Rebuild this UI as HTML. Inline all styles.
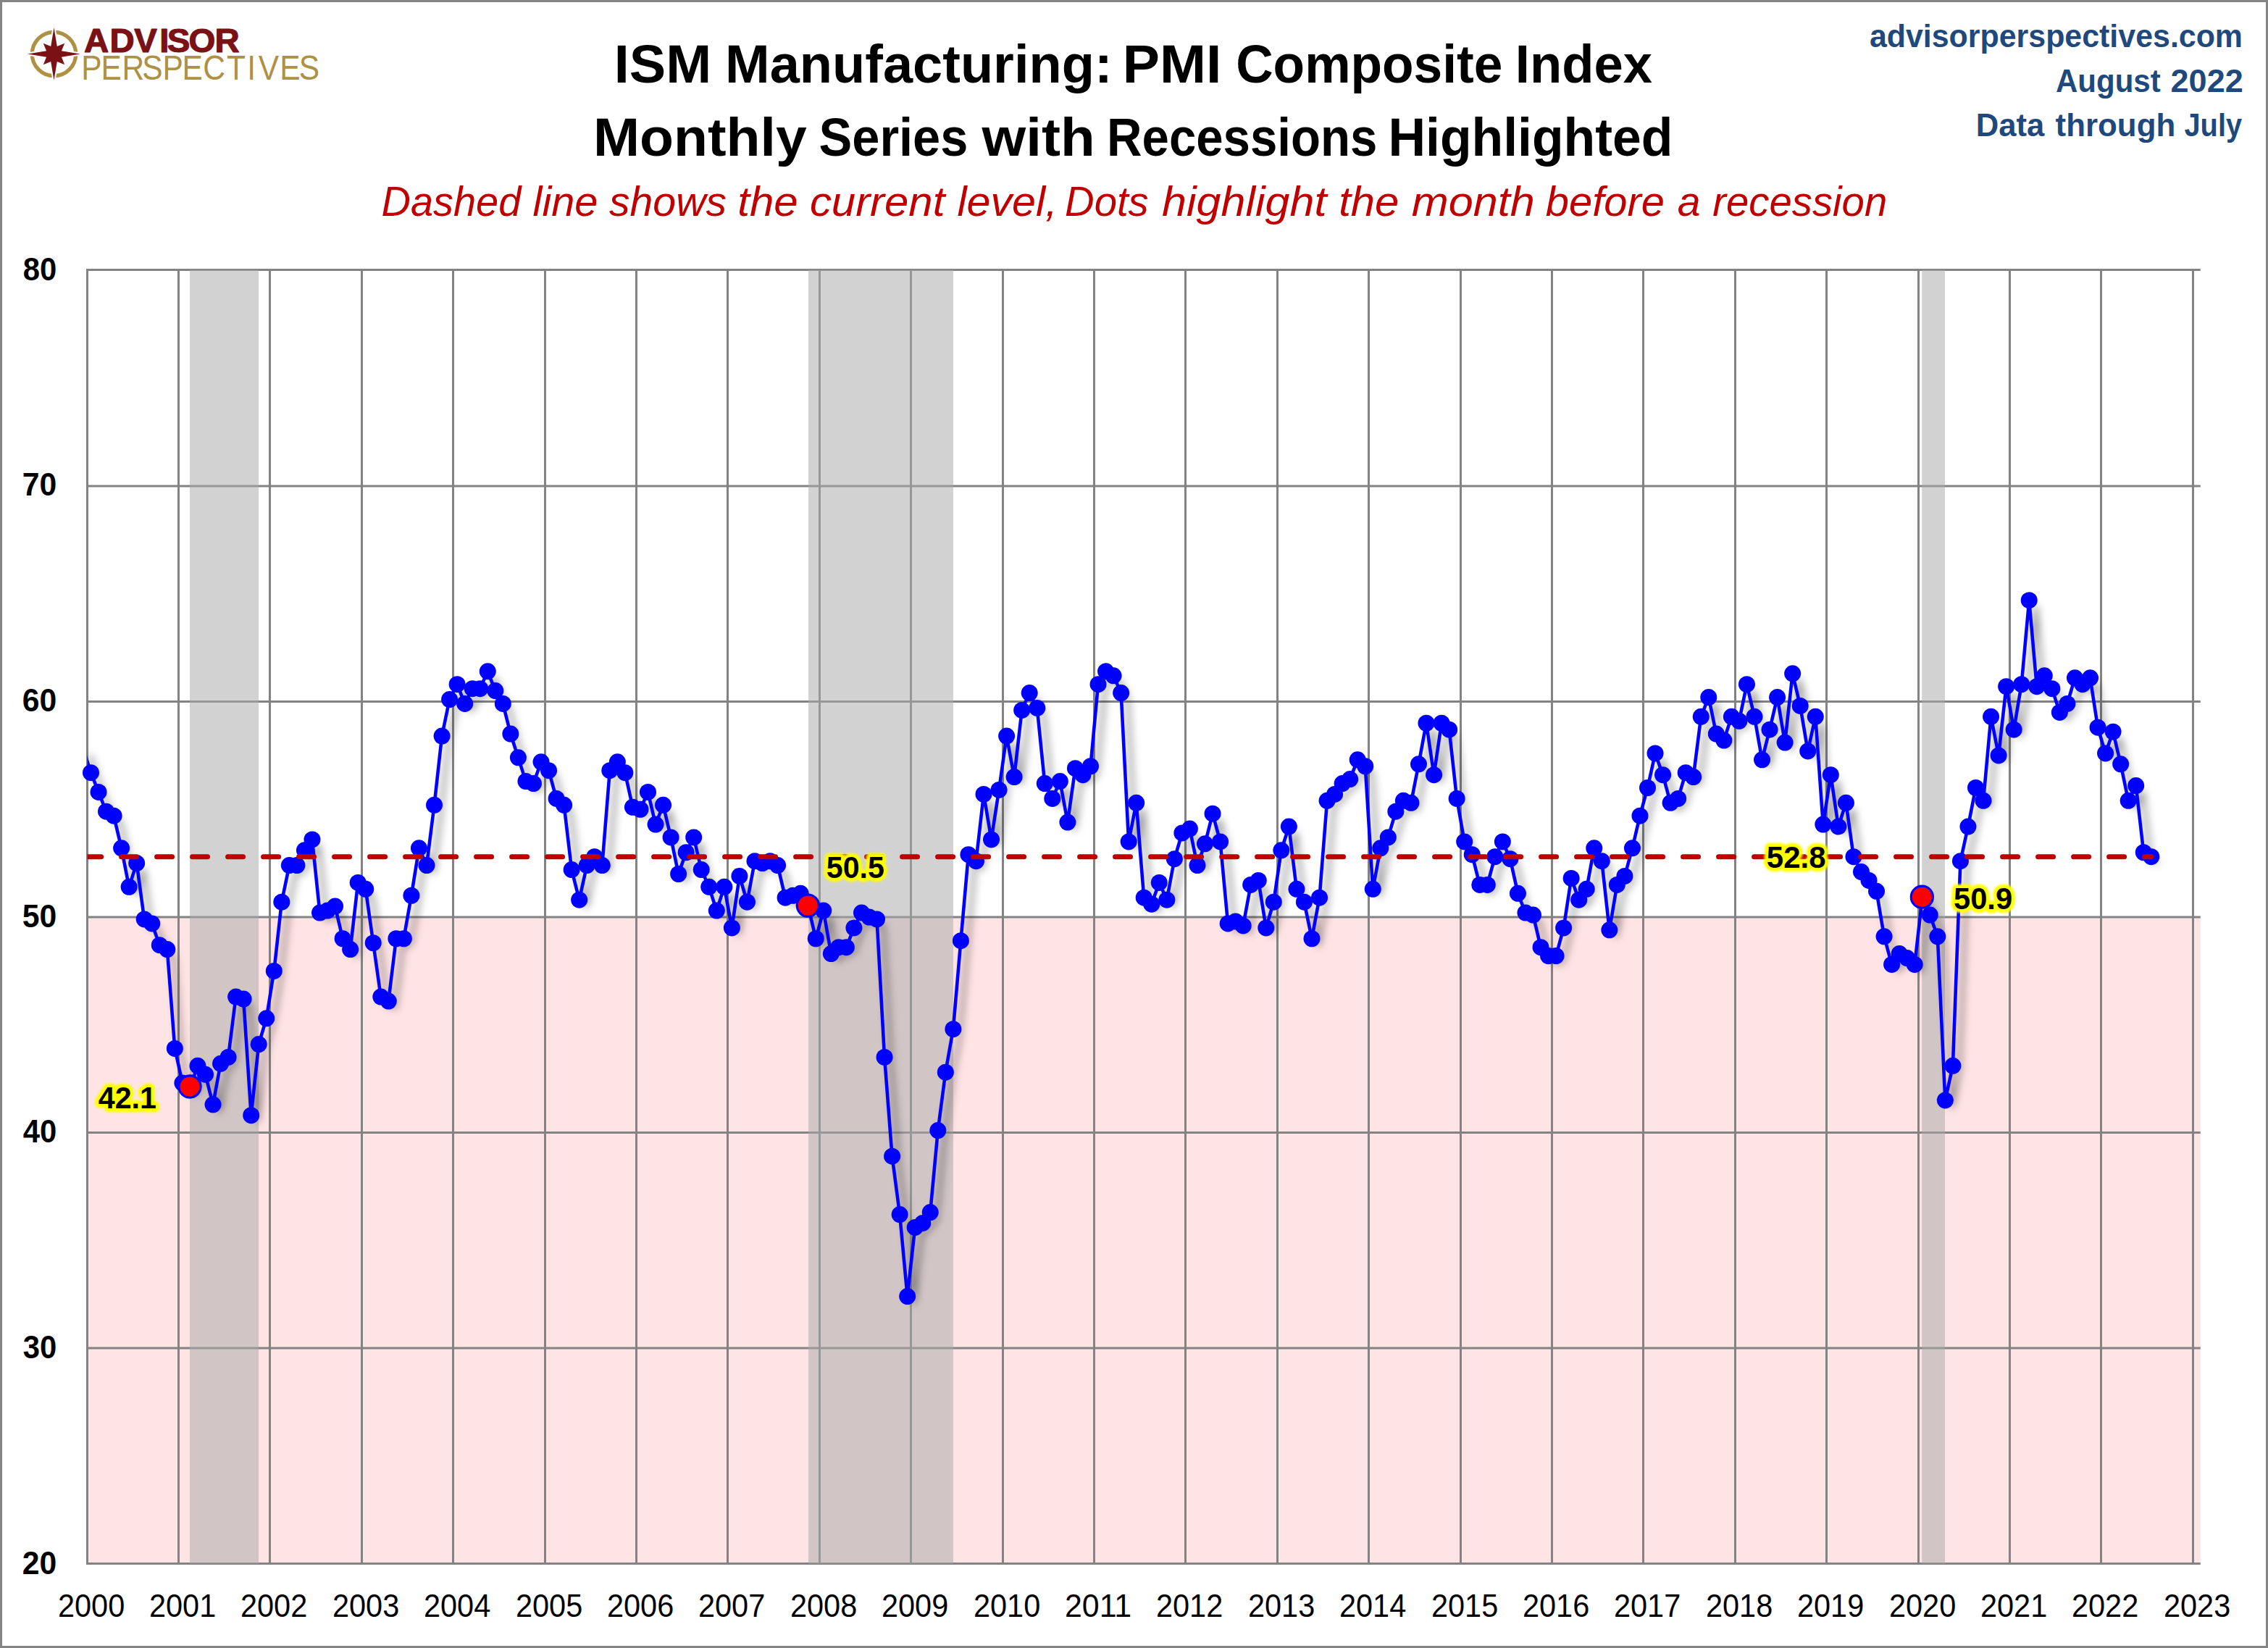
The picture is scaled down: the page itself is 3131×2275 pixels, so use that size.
<!DOCTYPE html>
<html lang="en"><head><meta charset="utf-8"><title>ISM Manufacturing: PMI Composite Index</title>
<style>html,body{margin:0;padding:0;background:#fff}body{width:3131px;height:2275px;overflow:hidden}svg{display:block}text{font-family:"Liberation Sans",sans-serif}</style>
</head><body>
<svg width="3131" height="2275" viewBox="0 0 3131 2275">
<defs>
<filter id="sh" x="-5%" y="-5%" width="110%" height="110%"><feGaussianBlur stdDeviation="6"/></filter>
<filter id="gl" x="-20%" y="-40%" width="140%" height="180%"><feGaussianBlur stdDeviation="1.8"/></filter>
<clipPath id="plot"><rect x="120.5" y="372.5" width="2917.3" height="1786"/></clipPath>
</defs>
<rect x="0" y="0" width="3131" height="2275" fill="#fff"/>
<rect x="1.5" y="1.5" width="3128" height="2272" fill="none" stroke="#848484" stroke-width="3"/>
<rect x="120.5" y="1266" width="2917.3" height="892.5" fill="#ffe4e5"/>
<g stroke="#838383" stroke-width="3" fill="none">
<path d="M119 372.5H3037.8"/>
<path d="M119 671H3037.8"/>
<path d="M119 968.5H3037.8"/>
<path d="M119 1266H3037.8"/>
<path d="M119 1563.5H3037.8"/>
<path d="M119 1861H3037.8"/>
<path d="M119 2158.5H3037.8"/>
<path d="M120.5 371V2160"/>
<path d="M246.5 371V2160"/>
<path d="M372.5 371V2160"/>
<path d="M499.5 371V2160"/>
<path d="M625.5 371V2160"/>
<path d="M752.5 371V2160"/>
<path d="M878.5 371V2160"/>
<path d="M1004.5 371V2160"/>
<path d="M1131.5 371V2160"/>
<path d="M1257.5 371V2160"/>
<path d="M1384.5 371V2160"/>
<path d="M1510.5 371V2160"/>
<path d="M1636.5 371V2160"/>
<path d="M1763.5 371V2160"/>
<path d="M1889.5 371V2160"/>
<path d="M2016.5 371V2160"/>
<path d="M2142.5 371V2160"/>
<path d="M2268.5 371V2160"/>
<path d="M2395.5 371V2160"/>
<path d="M2521.5 371V2160"/>
<path d="M2648.5 371V2160"/>
<path d="M2774.5 371V2160"/>
<path d="M2900.5 371V2160"/>
<path d="M3027.5 371V2160"/>
</g>
<rect x="262" y="372.5" width="95.1" height="1786" fill="rgb(170,170,170)" fill-opacity="0.53"/>
<rect x="1116" y="372.5" width="200" height="1786" fill="rgb(170,170,170)" fill-opacity="0.53"/>
<rect x="2653.2" y="372.5" width="31.8" height="1786" fill="rgb(170,170,170)" fill-opacity="0.53"/>
<g clip-path="url(#plot)">
<polyline points="114.93,1033.95 125.47,1066.67 136,1093.45 146.54,1120.23 157.07,1126.17 167.61,1170.8 178.14,1224.35 188.67,1191.62 199.21,1268.98 209.74,1274.92 220.28,1304.67 230.81,1310.62 241.35,1447.48 251.88,1495.08 262.42,1501.02 272.95,1471.27 283.48,1483.17 294.02,1524.83 304.55,1468.3 315.09,1459.38 325.62,1376.08 336.16,1379.05 346.69,1539.7 357.23,1441.52 367.76,1405.83 378.3,1340.38 388.83,1245.17 399.36,1194.6 409.9,1194.6 420.43,1173.77 430.97,1158.9 441.5,1260.05 452.04,1257.08 462.57,1251.12 473.11,1295.75 483.64,1310.62 494.17,1218.4 504.71,1227.33 515.24,1301.7 525.78,1376.08 536.31,1382.02 546.85,1295.75 557.38,1295.75 567.92,1236.25 578.45,1170.8 588.99,1194.6 599.52,1111.3 610.05,1016.1 620.59,965.52 631.12,944.7 641.66,971.48 652.19,950.65 662.73,950.65 673.26,926.85 683.8,953.62 694.33,971.48 704.86,1013.12 715.4,1045.85 725.93,1078.58 736.47,1081.55 747,1051.8 757.54,1063.7 768.07,1102.38 778.61,1111.3 789.14,1200.55 799.68,1242.2 810.21,1194.6 820.74,1182.7 831.28,1194.6 841.81,1063.7 852.35,1051.8 862.88,1066.67 873.42,1114.27 883.95,1117.25 894.49,1093.45 905.02,1138.08 915.55,1111.3 926.09,1155.92 936.62,1206.5 947.16,1176.75 957.69,1155.92 968.23,1200.55 978.76,1224.35 989.3,1257.08 999.83,1224.35 1010.37,1280.88 1020.9,1209.48 1031.43,1245.17 1041.97,1188.65 1052.5,1191.62 1063.04,1188.65 1073.57,1194.6 1084.11,1239.23 1094.64,1236.25 1105.18,1233.27 1115.71,1251.12 1126.24,1295.75 1136.78,1257.08 1147.31,1316.58 1157.85,1307.65 1168.38,1307.65 1178.92,1280.88 1189.45,1260.05 1199.99,1266 1210.52,1268.98 1221.06,1459.38 1231.59,1596.22 1242.12,1676.55 1252.66,1789.6 1263.19,1694.4 1273.73,1688.45 1284.26,1673.58 1294.8,1560.53 1305.33,1480.2 1315.87,1420.7 1326.4,1298.73 1336.93,1179.73 1347.47,1188.65 1358,1096.42 1368.54,1158.9 1379.07,1090.48 1389.61,1016.1 1400.14,1072.62 1410.68,980.4 1421.21,956.6 1431.75,977.42 1442.28,1081.55 1452.81,1102.38 1463.35,1078.58 1473.88,1135.1 1484.42,1060.73 1494.95,1069.65 1505.49,1057.75 1516.02,944.7 1526.56,926.85 1537.09,932.8 1547.62,956.6 1558.16,1161.88 1568.69,1108.33 1579.23,1239.23 1589.76,1248.15 1600.3,1218.4 1610.83,1242.2 1621.37,1185.67 1631.9,1149.98 1642.44,1144.02 1652.97,1194.6 1663.5,1164.85 1674.04,1123.2 1684.57,1161.88 1695.11,1274.92 1705.64,1271.95 1716.18,1277.9 1726.71,1221.38 1737.25,1215.42 1747.78,1280.88 1758.31,1245.17 1768.85,1173.77 1779.38,1141.05 1789.92,1227.33 1800.45,1245.17 1810.99,1295.75 1821.52,1239.23 1832.06,1105.35 1842.59,1096.42 1853.13,1081.55 1863.66,1075.6 1874.19,1048.83 1884.73,1057.75 1895.26,1227.33 1905.8,1170.8 1916.33,1155.92 1926.87,1120.23 1937.4,1105.35 1947.94,1108.33 1958.47,1054.77 1969,998.25 1979.54,1069.65 1990.07,998.25 2000.61,1007.17 2011.14,1102.38 2021.68,1161.88 2032.21,1179.73 2042.75,1221.38 2053.28,1221.38 2063.82,1182.7 2074.35,1161.88 2084.88,1185.67 2095.42,1233.27 2105.95,1260.05 2116.49,1263.02 2127.02,1307.65 2137.56,1319.55 2148.09,1319.55 2158.63,1280.88 2169.16,1212.45 2179.69,1242.2 2190.23,1227.33 2200.76,1170.8 2211.3,1188.65 2221.83,1283.85 2232.37,1221.38 2242.9,1209.48 2253.44,1170.8 2263.97,1126.17 2274.51,1087.5 2285.04,1039.9 2295.57,1069.65 2306.11,1108.33 2316.64,1102.38 2327.18,1066.67 2337.71,1072.62 2348.25,989.33 2358.78,962.55 2369.32,1013.12 2379.85,1022.05 2390.38,989.33 2400.92,995.27 2411.45,944.7 2421.99,989.33 2432.52,1048.83 2443.06,1007.17 2453.59,962.55 2464.13,1025.02 2474.66,929.83 2485.2,974.45 2495.73,1036.92 2506.26,989.33 2516.8,1138.08 2527.33,1069.65 2537.87,1141.05 2548.4,1108.33 2558.94,1182.7 2569.47,1203.52 2580.01,1215.42 2590.54,1230.3 2601.07,1292.77 2611.61,1331.45 2622.14,1316.58 2632.68,1322.52 2643.21,1331.45 2653.75,1239.23 2664.28,1263.02 2674.82,1292.77 2685.35,1518.88 2695.89,1471.27 2706.42,1188.65 2716.95,1141.05 2727.49,1087.5 2738.02,1105.35 2748.56,989.33 2759.09,1042.88 2769.63,947.67 2780.16,1007.17 2790.7,944.7 2801.23,828.67 2811.76,947.67 2822.3,932.8 2832.83,950.65 2843.37,983.38 2853.9,971.48 2864.44,935.77 2874.97,944.7 2885.51,935.77 2896.04,1004.2 2906.58,1039.9 2917.11,1010.15 2927.64,1054.77 2938.18,1105.35 2948.71,1084.52 2959.25,1176.75 2969.78,1182.7" fill="none" stroke="#000" stroke-opacity="0.5" stroke-width="4.6" stroke-linejoin="round" transform="translate(9,9)" filter="url(#sh)"/>
<polyline points="114.93,1033.95 125.47,1066.67 136,1093.45 146.54,1120.23 157.07,1126.17 167.61,1170.8 178.14,1224.35 188.67,1191.62 199.21,1268.98 209.74,1274.92 220.28,1304.67 230.81,1310.62 241.35,1447.48 251.88,1495.08 262.42,1501.02 272.95,1471.27 283.48,1483.17 294.02,1524.83 304.55,1468.3 315.09,1459.38 325.62,1376.08 336.16,1379.05 346.69,1539.7 357.23,1441.52 367.76,1405.83 378.3,1340.38 388.83,1245.17 399.36,1194.6 409.9,1194.6 420.43,1173.77 430.97,1158.9 441.5,1260.05 452.04,1257.08 462.57,1251.12 473.11,1295.75 483.64,1310.62 494.17,1218.4 504.71,1227.33 515.24,1301.7 525.78,1376.08 536.31,1382.02 546.85,1295.75 557.38,1295.75 567.92,1236.25 578.45,1170.8 588.99,1194.6 599.52,1111.3 610.05,1016.1 620.59,965.52 631.12,944.7 641.66,971.48 652.19,950.65 662.73,950.65 673.26,926.85 683.8,953.62 694.33,971.48 704.86,1013.12 715.4,1045.85 725.93,1078.58 736.47,1081.55 747,1051.8 757.54,1063.7 768.07,1102.38 778.61,1111.3 789.14,1200.55 799.68,1242.2 810.21,1194.6 820.74,1182.7 831.28,1194.6 841.81,1063.7 852.35,1051.8 862.88,1066.67 873.42,1114.27 883.95,1117.25 894.49,1093.45 905.02,1138.08 915.55,1111.3 926.09,1155.92 936.62,1206.5 947.16,1176.75 957.69,1155.92 968.23,1200.55 978.76,1224.35 989.3,1257.08 999.83,1224.35 1010.37,1280.88 1020.9,1209.48 1031.43,1245.17 1041.97,1188.65 1052.5,1191.62 1063.04,1188.65 1073.57,1194.6 1084.11,1239.23 1094.64,1236.25 1105.18,1233.27 1115.71,1251.12 1126.24,1295.75 1136.78,1257.08 1147.31,1316.58 1157.85,1307.65 1168.38,1307.65 1178.92,1280.88 1189.45,1260.05 1199.99,1266 1210.52,1268.98 1221.06,1459.38 1231.59,1596.22 1242.12,1676.55 1252.66,1789.6 1263.19,1694.4 1273.73,1688.45 1284.26,1673.58 1294.8,1560.53 1305.33,1480.2 1315.87,1420.7 1326.4,1298.73 1336.93,1179.73 1347.47,1188.65 1358,1096.42 1368.54,1158.9 1379.07,1090.48 1389.61,1016.1 1400.14,1072.62 1410.68,980.4 1421.21,956.6 1431.75,977.42 1442.28,1081.55 1452.81,1102.38 1463.35,1078.58 1473.88,1135.1 1484.42,1060.73 1494.95,1069.65 1505.49,1057.75 1516.02,944.7 1526.56,926.85 1537.09,932.8 1547.62,956.6 1558.16,1161.88 1568.69,1108.33 1579.23,1239.23 1589.76,1248.15 1600.3,1218.4 1610.83,1242.2 1621.37,1185.67 1631.9,1149.98 1642.44,1144.02 1652.97,1194.6 1663.5,1164.85 1674.04,1123.2 1684.57,1161.88 1695.11,1274.92 1705.64,1271.95 1716.18,1277.9 1726.71,1221.38 1737.25,1215.42 1747.78,1280.88 1758.31,1245.17 1768.85,1173.77 1779.38,1141.05 1789.92,1227.33 1800.45,1245.17 1810.99,1295.75 1821.52,1239.23 1832.06,1105.35 1842.59,1096.42 1853.13,1081.55 1863.66,1075.6 1874.19,1048.83 1884.73,1057.75 1895.26,1227.33 1905.8,1170.8 1916.33,1155.92 1926.87,1120.23 1937.4,1105.35 1947.94,1108.33 1958.47,1054.77 1969,998.25 1979.54,1069.65 1990.07,998.25 2000.61,1007.17 2011.14,1102.38 2021.68,1161.88 2032.21,1179.73 2042.75,1221.38 2053.28,1221.38 2063.82,1182.7 2074.35,1161.88 2084.88,1185.67 2095.42,1233.27 2105.95,1260.05 2116.49,1263.02 2127.02,1307.65 2137.56,1319.55 2148.09,1319.55 2158.63,1280.88 2169.16,1212.45 2179.69,1242.2 2190.23,1227.33 2200.76,1170.8 2211.3,1188.65 2221.83,1283.85 2232.37,1221.38 2242.9,1209.48 2253.44,1170.8 2263.97,1126.17 2274.51,1087.5 2285.04,1039.9 2295.57,1069.65 2306.11,1108.33 2316.64,1102.38 2327.18,1066.67 2337.71,1072.62 2348.25,989.33 2358.78,962.55 2369.32,1013.12 2379.85,1022.05 2390.38,989.33 2400.92,995.27 2411.45,944.7 2421.99,989.33 2432.52,1048.83 2443.06,1007.17 2453.59,962.55 2464.13,1025.02 2474.66,929.83 2485.2,974.45 2495.73,1036.92 2506.26,989.33 2516.8,1138.08 2527.33,1069.65 2537.87,1141.05 2548.4,1108.33 2558.94,1182.7 2569.47,1203.52 2580.01,1215.42 2590.54,1230.3 2601.07,1292.77 2611.61,1331.45 2622.14,1316.58 2632.68,1322.52 2643.21,1331.45 2653.75,1239.23 2664.28,1263.02 2674.82,1292.77 2685.35,1518.88 2695.89,1471.27 2706.42,1188.65 2716.95,1141.05 2727.49,1087.5 2738.02,1105.35 2748.56,989.33 2759.09,1042.88 2769.63,947.67 2780.16,1007.17 2790.7,944.7 2801.23,828.67 2811.76,947.67 2822.3,932.8 2832.83,950.65 2843.37,983.38 2853.9,971.48 2864.44,935.77 2874.97,944.7 2885.51,935.77 2896.04,1004.2 2906.58,1039.9 2917.11,1010.15 2927.64,1054.77 2938.18,1105.35 2948.71,1084.52 2959.25,1176.75 2969.78,1182.7" fill="none" stroke="#0000ff" stroke-width="4.6" stroke-linejoin="round"/>
</g>
<g fill="#0000ff">
<circle cx="125.47" cy="1066.67" r="11.5"/>
<circle cx="136" cy="1093.45" r="11.5"/>
<circle cx="146.54" cy="1120.23" r="11.5"/>
<circle cx="157.07" cy="1126.17" r="11.5"/>
<circle cx="167.61" cy="1170.8" r="11.5"/>
<circle cx="178.14" cy="1224.35" r="11.5"/>
<circle cx="188.67" cy="1191.62" r="11.5"/>
<circle cx="199.21" cy="1268.98" r="11.5"/>
<circle cx="209.74" cy="1274.92" r="11.5"/>
<circle cx="220.28" cy="1304.67" r="11.5"/>
<circle cx="230.81" cy="1310.62" r="11.5"/>
<circle cx="241.35" cy="1447.48" r="11.5"/>
<circle cx="251.88" cy="1495.08" r="11.5"/>
<circle cx="262.42" cy="1501.02" r="11.5"/>
<circle cx="272.95" cy="1471.27" r="11.5"/>
<circle cx="283.48" cy="1483.17" r="11.5"/>
<circle cx="294.02" cy="1524.83" r="11.5"/>
<circle cx="304.55" cy="1468.3" r="11.5"/>
<circle cx="315.09" cy="1459.38" r="11.5"/>
<circle cx="325.62" cy="1376.08" r="11.5"/>
<circle cx="336.16" cy="1379.05" r="11.5"/>
<circle cx="346.69" cy="1539.7" r="11.5"/>
<circle cx="357.23" cy="1441.52" r="11.5"/>
<circle cx="367.76" cy="1405.83" r="11.5"/>
<circle cx="378.3" cy="1340.38" r="11.5"/>
<circle cx="388.83" cy="1245.17" r="11.5"/>
<circle cx="399.36" cy="1194.6" r="11.5"/>
<circle cx="409.9" cy="1194.6" r="11.5"/>
<circle cx="420.43" cy="1173.77" r="11.5"/>
<circle cx="430.97" cy="1158.9" r="11.5"/>
<circle cx="441.5" cy="1260.05" r="11.5"/>
<circle cx="452.04" cy="1257.08" r="11.5"/>
<circle cx="462.57" cy="1251.12" r="11.5"/>
<circle cx="473.11" cy="1295.75" r="11.5"/>
<circle cx="483.64" cy="1310.62" r="11.5"/>
<circle cx="494.17" cy="1218.4" r="11.5"/>
<circle cx="504.71" cy="1227.33" r="11.5"/>
<circle cx="515.24" cy="1301.7" r="11.5"/>
<circle cx="525.78" cy="1376.08" r="11.5"/>
<circle cx="536.31" cy="1382.02" r="11.5"/>
<circle cx="546.85" cy="1295.75" r="11.5"/>
<circle cx="557.38" cy="1295.75" r="11.5"/>
<circle cx="567.92" cy="1236.25" r="11.5"/>
<circle cx="578.45" cy="1170.8" r="11.5"/>
<circle cx="588.99" cy="1194.6" r="11.5"/>
<circle cx="599.52" cy="1111.3" r="11.5"/>
<circle cx="610.05" cy="1016.1" r="11.5"/>
<circle cx="620.59" cy="965.52" r="11.5"/>
<circle cx="631.12" cy="944.7" r="11.5"/>
<circle cx="641.66" cy="971.48" r="11.5"/>
<circle cx="652.19" cy="950.65" r="11.5"/>
<circle cx="662.73" cy="950.65" r="11.5"/>
<circle cx="673.26" cy="926.85" r="11.5"/>
<circle cx="683.8" cy="953.62" r="11.5"/>
<circle cx="694.33" cy="971.48" r="11.5"/>
<circle cx="704.86" cy="1013.12" r="11.5"/>
<circle cx="715.4" cy="1045.85" r="11.5"/>
<circle cx="725.93" cy="1078.58" r="11.5"/>
<circle cx="736.47" cy="1081.55" r="11.5"/>
<circle cx="747" cy="1051.8" r="11.5"/>
<circle cx="757.54" cy="1063.7" r="11.5"/>
<circle cx="768.07" cy="1102.38" r="11.5"/>
<circle cx="778.61" cy="1111.3" r="11.5"/>
<circle cx="789.14" cy="1200.55" r="11.5"/>
<circle cx="799.68" cy="1242.2" r="11.5"/>
<circle cx="810.21" cy="1194.6" r="11.5"/>
<circle cx="820.74" cy="1182.7" r="11.5"/>
<circle cx="831.28" cy="1194.6" r="11.5"/>
<circle cx="841.81" cy="1063.7" r="11.5"/>
<circle cx="852.35" cy="1051.8" r="11.5"/>
<circle cx="862.88" cy="1066.67" r="11.5"/>
<circle cx="873.42" cy="1114.27" r="11.5"/>
<circle cx="883.95" cy="1117.25" r="11.5"/>
<circle cx="894.49" cy="1093.45" r="11.5"/>
<circle cx="905.02" cy="1138.08" r="11.5"/>
<circle cx="915.55" cy="1111.3" r="11.5"/>
<circle cx="926.09" cy="1155.92" r="11.5"/>
<circle cx="936.62" cy="1206.5" r="11.5"/>
<circle cx="947.16" cy="1176.75" r="11.5"/>
<circle cx="957.69" cy="1155.92" r="11.5"/>
<circle cx="968.23" cy="1200.55" r="11.5"/>
<circle cx="978.76" cy="1224.35" r="11.5"/>
<circle cx="989.3" cy="1257.08" r="11.5"/>
<circle cx="999.83" cy="1224.35" r="11.5"/>
<circle cx="1010.37" cy="1280.88" r="11.5"/>
<circle cx="1020.9" cy="1209.48" r="11.5"/>
<circle cx="1031.43" cy="1245.17" r="11.5"/>
<circle cx="1041.97" cy="1188.65" r="11.5"/>
<circle cx="1052.5" cy="1191.62" r="11.5"/>
<circle cx="1063.04" cy="1188.65" r="11.5"/>
<circle cx="1073.57" cy="1194.6" r="11.5"/>
<circle cx="1084.11" cy="1239.23" r="11.5"/>
<circle cx="1094.64" cy="1236.25" r="11.5"/>
<circle cx="1105.18" cy="1233.27" r="11.5"/>
<circle cx="1115.71" cy="1251.12" r="11.5"/>
<circle cx="1126.24" cy="1295.75" r="11.5"/>
<circle cx="1136.78" cy="1257.08" r="11.5"/>
<circle cx="1147.31" cy="1316.58" r="11.5"/>
<circle cx="1157.85" cy="1307.65" r="11.5"/>
<circle cx="1168.38" cy="1307.65" r="11.5"/>
<circle cx="1178.92" cy="1280.88" r="11.5"/>
<circle cx="1189.45" cy="1260.05" r="11.5"/>
<circle cx="1199.99" cy="1266" r="11.5"/>
<circle cx="1210.52" cy="1268.98" r="11.5"/>
<circle cx="1221.06" cy="1459.38" r="11.5"/>
<circle cx="1231.59" cy="1596.22" r="11.5"/>
<circle cx="1242.12" cy="1676.55" r="11.5"/>
<circle cx="1252.66" cy="1789.6" r="11.5"/>
<circle cx="1263.19" cy="1694.4" r="11.5"/>
<circle cx="1273.73" cy="1688.45" r="11.5"/>
<circle cx="1284.26" cy="1673.58" r="11.5"/>
<circle cx="1294.8" cy="1560.53" r="11.5"/>
<circle cx="1305.33" cy="1480.2" r="11.5"/>
<circle cx="1315.87" cy="1420.7" r="11.5"/>
<circle cx="1326.4" cy="1298.73" r="11.5"/>
<circle cx="1336.93" cy="1179.73" r="11.5"/>
<circle cx="1347.47" cy="1188.65" r="11.5"/>
<circle cx="1358" cy="1096.42" r="11.5"/>
<circle cx="1368.54" cy="1158.9" r="11.5"/>
<circle cx="1379.07" cy="1090.48" r="11.5"/>
<circle cx="1389.61" cy="1016.1" r="11.5"/>
<circle cx="1400.14" cy="1072.62" r="11.5"/>
<circle cx="1410.68" cy="980.4" r="11.5"/>
<circle cx="1421.21" cy="956.6" r="11.5"/>
<circle cx="1431.75" cy="977.42" r="11.5"/>
<circle cx="1442.28" cy="1081.55" r="11.5"/>
<circle cx="1452.81" cy="1102.38" r="11.5"/>
<circle cx="1463.35" cy="1078.58" r="11.5"/>
<circle cx="1473.88" cy="1135.1" r="11.5"/>
<circle cx="1484.42" cy="1060.73" r="11.5"/>
<circle cx="1494.95" cy="1069.65" r="11.5"/>
<circle cx="1505.49" cy="1057.75" r="11.5"/>
<circle cx="1516.02" cy="944.7" r="11.5"/>
<circle cx="1526.56" cy="926.85" r="11.5"/>
<circle cx="1537.09" cy="932.8" r="11.5"/>
<circle cx="1547.62" cy="956.6" r="11.5"/>
<circle cx="1558.16" cy="1161.88" r="11.5"/>
<circle cx="1568.69" cy="1108.33" r="11.5"/>
<circle cx="1579.23" cy="1239.23" r="11.5"/>
<circle cx="1589.76" cy="1248.15" r="11.5"/>
<circle cx="1600.3" cy="1218.4" r="11.5"/>
<circle cx="1610.83" cy="1242.2" r="11.5"/>
<circle cx="1621.37" cy="1185.67" r="11.5"/>
<circle cx="1631.9" cy="1149.98" r="11.5"/>
<circle cx="1642.44" cy="1144.02" r="11.5"/>
<circle cx="1652.97" cy="1194.6" r="11.5"/>
<circle cx="1663.5" cy="1164.85" r="11.5"/>
<circle cx="1674.04" cy="1123.2" r="11.5"/>
<circle cx="1684.57" cy="1161.88" r="11.5"/>
<circle cx="1695.11" cy="1274.92" r="11.5"/>
<circle cx="1705.64" cy="1271.95" r="11.5"/>
<circle cx="1716.18" cy="1277.9" r="11.5"/>
<circle cx="1726.71" cy="1221.38" r="11.5"/>
<circle cx="1737.25" cy="1215.42" r="11.5"/>
<circle cx="1747.78" cy="1280.88" r="11.5"/>
<circle cx="1758.31" cy="1245.17" r="11.5"/>
<circle cx="1768.85" cy="1173.77" r="11.5"/>
<circle cx="1779.38" cy="1141.05" r="11.5"/>
<circle cx="1789.92" cy="1227.33" r="11.5"/>
<circle cx="1800.45" cy="1245.17" r="11.5"/>
<circle cx="1810.99" cy="1295.75" r="11.5"/>
<circle cx="1821.52" cy="1239.23" r="11.5"/>
<circle cx="1832.06" cy="1105.35" r="11.5"/>
<circle cx="1842.59" cy="1096.42" r="11.5"/>
<circle cx="1853.13" cy="1081.55" r="11.5"/>
<circle cx="1863.66" cy="1075.6" r="11.5"/>
<circle cx="1874.19" cy="1048.83" r="11.5"/>
<circle cx="1884.73" cy="1057.75" r="11.5"/>
<circle cx="1895.26" cy="1227.33" r="11.5"/>
<circle cx="1905.8" cy="1170.8" r="11.5"/>
<circle cx="1916.33" cy="1155.92" r="11.5"/>
<circle cx="1926.87" cy="1120.23" r="11.5"/>
<circle cx="1937.4" cy="1105.35" r="11.5"/>
<circle cx="1947.94" cy="1108.33" r="11.5"/>
<circle cx="1958.47" cy="1054.77" r="11.5"/>
<circle cx="1969" cy="998.25" r="11.5"/>
<circle cx="1979.54" cy="1069.65" r="11.5"/>
<circle cx="1990.07" cy="998.25" r="11.5"/>
<circle cx="2000.61" cy="1007.17" r="11.5"/>
<circle cx="2011.14" cy="1102.38" r="11.5"/>
<circle cx="2021.68" cy="1161.88" r="11.5"/>
<circle cx="2032.21" cy="1179.73" r="11.5"/>
<circle cx="2042.75" cy="1221.38" r="11.5"/>
<circle cx="2053.28" cy="1221.38" r="11.5"/>
<circle cx="2063.82" cy="1182.7" r="11.5"/>
<circle cx="2074.35" cy="1161.88" r="11.5"/>
<circle cx="2084.88" cy="1185.67" r="11.5"/>
<circle cx="2095.42" cy="1233.27" r="11.5"/>
<circle cx="2105.95" cy="1260.05" r="11.5"/>
<circle cx="2116.49" cy="1263.02" r="11.5"/>
<circle cx="2127.02" cy="1307.65" r="11.5"/>
<circle cx="2137.56" cy="1319.55" r="11.5"/>
<circle cx="2148.09" cy="1319.55" r="11.5"/>
<circle cx="2158.63" cy="1280.88" r="11.5"/>
<circle cx="2169.16" cy="1212.45" r="11.5"/>
<circle cx="2179.69" cy="1242.2" r="11.5"/>
<circle cx="2190.23" cy="1227.33" r="11.5"/>
<circle cx="2200.76" cy="1170.8" r="11.5"/>
<circle cx="2211.3" cy="1188.65" r="11.5"/>
<circle cx="2221.83" cy="1283.85" r="11.5"/>
<circle cx="2232.37" cy="1221.38" r="11.5"/>
<circle cx="2242.9" cy="1209.48" r="11.5"/>
<circle cx="2253.44" cy="1170.8" r="11.5"/>
<circle cx="2263.97" cy="1126.17" r="11.5"/>
<circle cx="2274.51" cy="1087.5" r="11.5"/>
<circle cx="2285.04" cy="1039.9" r="11.5"/>
<circle cx="2295.57" cy="1069.65" r="11.5"/>
<circle cx="2306.11" cy="1108.33" r="11.5"/>
<circle cx="2316.64" cy="1102.38" r="11.5"/>
<circle cx="2327.18" cy="1066.67" r="11.5"/>
<circle cx="2337.71" cy="1072.62" r="11.5"/>
<circle cx="2348.25" cy="989.33" r="11.5"/>
<circle cx="2358.78" cy="962.55" r="11.5"/>
<circle cx="2369.32" cy="1013.12" r="11.5"/>
<circle cx="2379.85" cy="1022.05" r="11.5"/>
<circle cx="2390.38" cy="989.33" r="11.5"/>
<circle cx="2400.92" cy="995.27" r="11.5"/>
<circle cx="2411.45" cy="944.7" r="11.5"/>
<circle cx="2421.99" cy="989.33" r="11.5"/>
<circle cx="2432.52" cy="1048.83" r="11.5"/>
<circle cx="2443.06" cy="1007.17" r="11.5"/>
<circle cx="2453.59" cy="962.55" r="11.5"/>
<circle cx="2464.13" cy="1025.02" r="11.5"/>
<circle cx="2474.66" cy="929.83" r="11.5"/>
<circle cx="2485.2" cy="974.45" r="11.5"/>
<circle cx="2495.73" cy="1036.92" r="11.5"/>
<circle cx="2506.26" cy="989.33" r="11.5"/>
<circle cx="2516.8" cy="1138.08" r="11.5"/>
<circle cx="2527.33" cy="1069.65" r="11.5"/>
<circle cx="2537.87" cy="1141.05" r="11.5"/>
<circle cx="2548.4" cy="1108.33" r="11.5"/>
<circle cx="2558.94" cy="1182.7" r="11.5"/>
<circle cx="2569.47" cy="1203.52" r="11.5"/>
<circle cx="2580.01" cy="1215.42" r="11.5"/>
<circle cx="2590.54" cy="1230.3" r="11.5"/>
<circle cx="2601.07" cy="1292.77" r="11.5"/>
<circle cx="2611.61" cy="1331.45" r="11.5"/>
<circle cx="2622.14" cy="1316.58" r="11.5"/>
<circle cx="2632.68" cy="1322.52" r="11.5"/>
<circle cx="2643.21" cy="1331.45" r="11.5"/>
<circle cx="2653.75" cy="1239.23" r="11.5"/>
<circle cx="2664.28" cy="1263.02" r="11.5"/>
<circle cx="2674.82" cy="1292.77" r="11.5"/>
<circle cx="2685.35" cy="1518.88" r="11.5"/>
<circle cx="2695.89" cy="1471.27" r="11.5"/>
<circle cx="2706.42" cy="1188.65" r="11.5"/>
<circle cx="2716.95" cy="1141.05" r="11.5"/>
<circle cx="2727.49" cy="1087.5" r="11.5"/>
<circle cx="2738.02" cy="1105.35" r="11.5"/>
<circle cx="2748.56" cy="989.33" r="11.5"/>
<circle cx="2759.09" cy="1042.88" r="11.5"/>
<circle cx="2769.63" cy="947.67" r="11.5"/>
<circle cx="2780.16" cy="1007.17" r="11.5"/>
<circle cx="2790.7" cy="944.7" r="11.5"/>
<circle cx="2801.23" cy="828.67" r="11.5"/>
<circle cx="2811.76" cy="947.67" r="11.5"/>
<circle cx="2822.3" cy="932.8" r="11.5"/>
<circle cx="2832.83" cy="950.65" r="11.5"/>
<circle cx="2843.37" cy="983.38" r="11.5"/>
<circle cx="2853.9" cy="971.48" r="11.5"/>
<circle cx="2864.44" cy="935.77" r="11.5"/>
<circle cx="2874.97" cy="944.7" r="11.5"/>
<circle cx="2885.51" cy="935.77" r="11.5"/>
<circle cx="2896.04" cy="1004.2" r="11.5"/>
<circle cx="2906.58" cy="1039.9" r="11.5"/>
<circle cx="2917.11" cy="1010.15" r="11.5"/>
<circle cx="2927.64" cy="1054.77" r="11.5"/>
<circle cx="2938.18" cy="1105.35" r="11.5"/>
<circle cx="2948.71" cy="1084.52" r="11.5"/>
<circle cx="2959.25" cy="1176.75" r="11.5"/>
<circle cx="2969.78" cy="1182.7" r="11.5"/>
</g>
<g fill="#ff0000" stroke="#0000ff" stroke-width="3.1">
<circle cx="262.02" cy="1500.02" r="15.1"/>
<circle cx="1115.31" cy="1250.12" r="15.1"/>
<circle cx="2653.35" cy="1238.23" r="15.1"/>
</g>
<path d="M118.57 1182.7H2969.78" clip-path="url(#plot)" stroke="#c00000" stroke-width="7" stroke-linecap="round" stroke-dasharray="21 28" fill="none"/>
<text x="847.86" y="114.4" font-size="75" font-weight="700" textLength="134.43" lengthAdjust="spacingAndGlyphs" fill="#000">ISM</text>
<text x="1001.07" y="114.4" font-size="75" font-weight="700" textLength="534.49" lengthAdjust="spacingAndGlyphs" fill="#000">Manufacturing:</text>
<text x="1549.78" y="114.4" font-size="75" font-weight="700" textLength="136.49" lengthAdjust="spacingAndGlyphs" fill="#000">PMI</text>
<text x="1706.15" y="114.4" font-size="75" font-weight="700" textLength="368.26" lengthAdjust="spacingAndGlyphs" fill="#000">Composite</text>
<text x="2091.77" y="114.4" font-size="75" font-weight="700" textLength="189.29" lengthAdjust="spacingAndGlyphs" fill="#000">Index</text>
<text x="818.97" y="214.5" font-size="75" font-weight="700" textLength="294.79" lengthAdjust="spacingAndGlyphs" fill="#000">Monthly</text>
<text x="1130.57" y="214.5" font-size="75" font-weight="700" textLength="205.74" lengthAdjust="spacingAndGlyphs" fill="#000">Series</text>
<text x="1355.5" y="214.5" font-size="75" font-weight="700" textLength="156.17" lengthAdjust="spacingAndGlyphs" fill="#000">with</text>
<text x="1528.02" y="214.5" font-size="75" font-weight="700" textLength="373.38" lengthAdjust="spacingAndGlyphs" fill="#000">Recessions</text>
<text x="1916.44" y="214.5" font-size="75" font-weight="700" textLength="392.94" lengthAdjust="spacingAndGlyphs" fill="#000">Highlighted</text>
<text x="526.54" y="298.2" font-size="57" font-style="italic" textLength="192.76" lengthAdjust="spacingAndGlyphs" fill="#c00000">Dashed</text>
<text x="735.59" y="298.2" font-size="57" font-style="italic" textLength="89.77" lengthAdjust="spacingAndGlyphs" fill="#c00000">line</text>
<text x="841" y="298.2" font-size="57" font-style="italic" textLength="161.98" lengthAdjust="spacingAndGlyphs" fill="#c00000">shows</text>
<text x="1018.24" y="298.2" font-size="57" font-style="italic" textLength="83.53" lengthAdjust="spacingAndGlyphs" fill="#c00000">the</text>
<text x="1117.9" y="298.2" font-size="57" font-style="italic" textLength="186.43" lengthAdjust="spacingAndGlyphs" fill="#c00000">current</text>
<text x="1321.46" y="298.2" font-size="57" font-style="italic" textLength="138.19" lengthAdjust="spacingAndGlyphs" fill="#c00000">level,</text>
<text x="1470.02" y="298.2" font-size="57" font-style="italic" textLength="115.76" lengthAdjust="spacingAndGlyphs" fill="#c00000">Dots</text>
<text x="1604.13" y="298.2" font-size="57" font-style="italic" textLength="227.3" lengthAdjust="spacingAndGlyphs" fill="#c00000">highlight</text>
<text x="1848.25" y="298.2" font-size="57" font-style="italic" textLength="83.11" lengthAdjust="spacingAndGlyphs" fill="#c00000">the</text>
<text x="1948.73" y="298.2" font-size="57" font-style="italic" textLength="170.07" lengthAdjust="spacingAndGlyphs" fill="#c00000">month</text>
<text x="2133.89" y="298.2" font-size="57" font-style="italic" textLength="163.96" lengthAdjust="spacingAndGlyphs" fill="#c00000">before</text>
<text x="2315.8" y="298.2" font-size="57" font-style="italic" textLength="31.81" lengthAdjust="spacingAndGlyphs" fill="#c00000">a</text>
<text x="2364.31" y="298.2" font-size="57" font-style="italic" textLength="240.9" lengthAdjust="spacingAndGlyphs" fill="#c00000">recession</text>
<text x="2580.91" y="64.8" font-size="43.5" font-weight="700" textLength="515.12" lengthAdjust="spacingAndGlyphs" fill="#1f497d">advisorperspectives.com</text>
<text x="2838.03" y="126.6" font-size="43.5" font-weight="700" textLength="144.65" lengthAdjust="spacingAndGlyphs" fill="#1f497d">August</text>
<text x="2996.53" y="126.6" font-size="43.5" font-weight="700" textLength="100.32" lengthAdjust="spacingAndGlyphs" fill="#1f497d">2022</text>
<text x="2727.69" y="187.8" font-size="43.5" font-weight="700" textLength="94.5" lengthAdjust="spacingAndGlyphs" fill="#1f497d">Data</text>
<text x="2837.59" y="187.8" font-size="43.5" font-weight="700" textLength="165.71" lengthAdjust="spacingAndGlyphs" fill="#1f497d">through</text>
<text x="3015.49" y="187.8" font-size="43.5" font-weight="700" textLength="79.56" lengthAdjust="spacingAndGlyphs" fill="#1f497d">July</text>
<text x="135.73" y="1530.4" font-size="42.5" font-weight="700" textLength="80.17" lengthAdjust="spacingAndGlyphs" fill="#ffff00" stroke="#ffff00" stroke-width="10.5" stroke-linejoin="round" filter="url(#gl)">42.1</text>
<text x="135.73" y="1530.4" font-size="42.5" font-weight="700" textLength="80.17" lengthAdjust="spacingAndGlyphs" fill="#000">42.1</text>
<text x="1140.87" y="1211.9" font-size="42.5" font-weight="700" textLength="80.03" lengthAdjust="spacingAndGlyphs" fill="#ffff00" stroke="#ffff00" stroke-width="10.5" stroke-linejoin="round" filter="url(#gl)">50.5</text>
<text x="1140.87" y="1211.9" font-size="42.5" font-weight="700" textLength="80.03" lengthAdjust="spacingAndGlyphs" fill="#000">50.5</text>
<text x="2438.83" y="1198.4" font-size="42.5" font-weight="700" textLength="81.67" lengthAdjust="spacingAndGlyphs" fill="#ffff00" stroke="#ffff00" stroke-width="10.5" stroke-linejoin="round" filter="url(#gl)">52.8</text>
<text x="2438.83" y="1198.4" font-size="42.5" font-weight="700" textLength="81.67" lengthAdjust="spacingAndGlyphs" fill="#000">52.8</text>
<text x="2697.04" y="1254.9" font-size="42.5" font-weight="700" textLength="81.04" lengthAdjust="spacingAndGlyphs" fill="#ffff00" stroke="#ffff00" stroke-width="10.5" stroke-linejoin="round" filter="url(#gl)">50.9</text>
<text x="2697.04" y="1254.9" font-size="42.5" font-weight="700" textLength="81.04" lengthAdjust="spacingAndGlyphs" fill="#000">50.9</text>
<text x="31.85" y="386.8" font-size="44" font-weight="700" textLength="46.51" lengthAdjust="spacingAndGlyphs" fill="#000">80</text>
<text x="30.86" y="684.45" font-size="44" font-weight="700" textLength="47.54" lengthAdjust="spacingAndGlyphs" fill="#000">70</text>
<text x="30.86" y="982.1" font-size="44" font-weight="700" textLength="47.54" lengthAdjust="spacingAndGlyphs" fill="#000">60</text>
<text x="30.86" y="1279.75" font-size="44" font-weight="700" textLength="47.54" lengthAdjust="spacingAndGlyphs" fill="#000">50</text>
<text x="31.85" y="1577.4" font-size="44" font-weight="700" textLength="46.51" lengthAdjust="spacingAndGlyphs" fill="#000">40</text>
<text x="31.85" y="1875.05" font-size="44" font-weight="700" textLength="46.51" lengthAdjust="spacingAndGlyphs" fill="#000">30</text>
<text x="30.86" y="2172.7" font-size="44" font-weight="700" textLength="47.54" lengthAdjust="spacingAndGlyphs" fill="#000">20</text>
<text x="79.99" y="2231.8" font-size="44" textLength="92.22" lengthAdjust="spacingAndGlyphs" fill="#000">2000</text>
<text x="205.99" y="2231.8" font-size="44" textLength="92.22" lengthAdjust="spacingAndGlyphs" fill="#000">2001</text>
<text x="331.99" y="2231.8" font-size="44" textLength="92.22" lengthAdjust="spacingAndGlyphs" fill="#000">2002</text>
<text x="458.99" y="2231.8" font-size="44" textLength="92.22" lengthAdjust="spacingAndGlyphs" fill="#000">2003</text>
<text x="584.99" y="2231.8" font-size="44" textLength="92.22" lengthAdjust="spacingAndGlyphs" fill="#000">2004</text>
<text x="711.99" y="2231.8" font-size="44" textLength="92.22" lengthAdjust="spacingAndGlyphs" fill="#000">2005</text>
<text x="837.99" y="2231.8" font-size="44" textLength="92.22" lengthAdjust="spacingAndGlyphs" fill="#000">2006</text>
<text x="963.99" y="2231.8" font-size="44" textLength="92.22" lengthAdjust="spacingAndGlyphs" fill="#000">2007</text>
<text x="1090.99" y="2231.8" font-size="44" textLength="92.22" lengthAdjust="spacingAndGlyphs" fill="#000">2008</text>
<text x="1216.99" y="2231.8" font-size="44" textLength="92.22" lengthAdjust="spacingAndGlyphs" fill="#000">2009</text>
<text x="1343.99" y="2231.8" font-size="44" textLength="92.22" lengthAdjust="spacingAndGlyphs" fill="#000">2010</text>
<text x="1469.99" y="2231.8" font-size="44" textLength="92.22" lengthAdjust="spacingAndGlyphs" fill="#000">2011</text>
<text x="1595.99" y="2231.8" font-size="44" textLength="92.22" lengthAdjust="spacingAndGlyphs" fill="#000">2012</text>
<text x="1722.99" y="2231.8" font-size="44" textLength="92.22" lengthAdjust="spacingAndGlyphs" fill="#000">2013</text>
<text x="1848.99" y="2231.8" font-size="44" textLength="92.22" lengthAdjust="spacingAndGlyphs" fill="#000">2014</text>
<text x="1975.99" y="2231.8" font-size="44" textLength="92.22" lengthAdjust="spacingAndGlyphs" fill="#000">2015</text>
<text x="2101.99" y="2231.8" font-size="44" textLength="92.22" lengthAdjust="spacingAndGlyphs" fill="#000">2016</text>
<text x="2227.99" y="2231.8" font-size="44" textLength="92.22" lengthAdjust="spacingAndGlyphs" fill="#000">2017</text>
<text x="2354.99" y="2231.8" font-size="44" textLength="92.22" lengthAdjust="spacingAndGlyphs" fill="#000">2018</text>
<text x="2480.99" y="2231.8" font-size="44" textLength="92.22" lengthAdjust="spacingAndGlyphs" fill="#000">2019</text>
<text x="2607.99" y="2231.8" font-size="44" textLength="92.22" lengthAdjust="spacingAndGlyphs" fill="#000">2020</text>
<text x="2733.99" y="2231.8" font-size="44" textLength="92.22" lengthAdjust="spacingAndGlyphs" fill="#000">2021</text>
<text x="2859.99" y="2231.8" font-size="44" textLength="92.22" lengthAdjust="spacingAndGlyphs" fill="#000">2022</text>
<text x="2986.99" y="2231.8" font-size="44" textLength="92.22" lengthAdjust="spacingAndGlyphs" fill="#000">2023</text>
<text transform="scale(1.0085,1)" x="114.98 150.28 183.71 218.5 228.83 258.41 293.91" y="72" font-size="47" font-weight="700" fill="#7a1114" stroke="#7a1114" stroke-width="1.2" stroke-linejoin="round">ADVISOR</text>
<text transform="scale(0.8677,1)" x="129.41 160.66 194.18 226.26 258.6 289.85 322.94 360.69 393.35 411.14 445.25 475.64" y="110.4" font-size="49" fill="#ae9142">PERSPECTIVES</text>
<circle cx="74.5" cy="74.5" r="30.2" fill="none" stroke="#ae9142" stroke-width="5.2"/>
<polygon points="74.5,38.3 78.82,64.06 89.21,59.79 84.94,70.18 110.7,74.5 84.94,78.82 89.21,89.21 78.82,84.94 74.5,110.7 70.18,84.94 59.79,89.21 64.06,78.82 38.3,74.5 64.06,70.18 59.79,59.79 70.18,64.06" fill="#7a1114" stroke="#fff" stroke-width="4" paint-order="stroke fill" stroke-linejoin="miter"/>
</svg></body></html>
